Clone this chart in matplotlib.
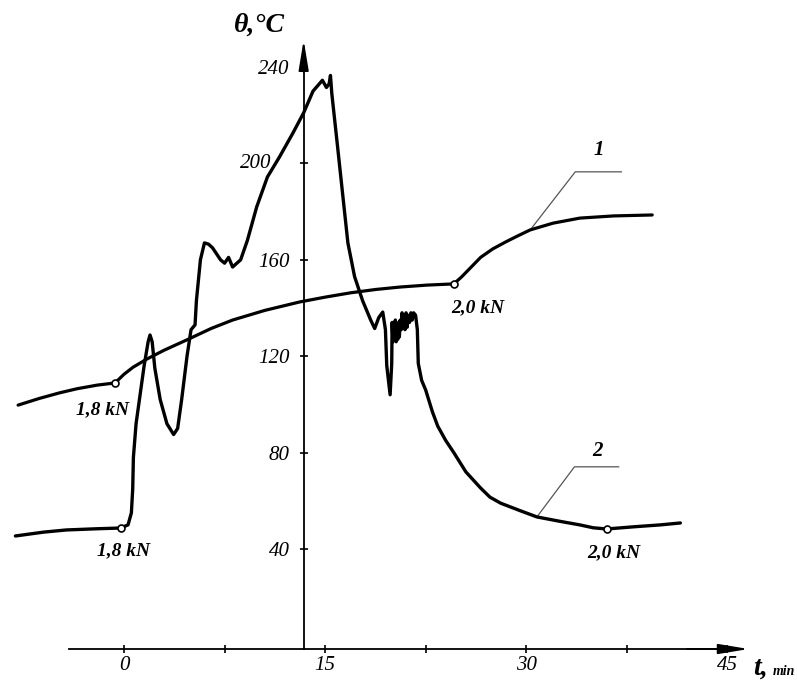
import matplotlib.pyplot as plt
import numpy as np

plt.rcParams['font.family'] = ['Liberation Serif', 'DejaVu Serif']
plt.rcParams['font.style'] = 'italic'

# curve 1 (smooth one)
t1 = [-7.9, -6.3, -4.8, -3.5, -2.0, -0.67, 0.0, 0.67, 1.7, 3.0, 4.7, 6.5, 8.1,
      10.5, 13.1, 15.0, 16.9, 18.8, 20.6, 22.6, 24.6, 25.2, 25.9, 26.6, 27.5,
      28.5, 29.4, 30.3, 32.0, 34.0, 36.5, 39.4]
theta1 = [99.7, 102.5, 104.8, 106.5, 108.0, 108.9, 112.5, 115.4, 118.8, 122.5,
          126.8, 131.5, 135.0, 139.0, 142.5, 144.5, 146.3, 147.7, 148.7, 149.5,
          150.0, 153.0, 157.0, 161.0, 164.5, 167.5, 170.0, 172.4, 175.2, 177.3,
          178.2, 178.6]

# curve 2 (the noisy one)
t2 = [-8.1, -6.0, -4.3, -2.0, -0.25, 0.3, 0.55, 0.65, 0.7, 0.9, 1.2, 1.5, 1.8,
      1.94, 2.1, 2.3, 2.7, 3.2, 3.7, 4.0, 4.3, 4.7, 5.0, 5.3, 5.4, 5.7, 6.0,
      6.3, 6.6, 7.2, 7.5, 7.8, 8.1, 8.7, 9.2, 9.9, 10.7, 11.6, 12.6, 13.4,
      14.1, 14.8, 15.1, 15.3, 15.4, 15.5, 15.9, 16.3, 16.7, 17.2, 17.8, 18.4,
      18.7, 19.0, 19.3, 19.5, 19.6, 19.85, 19.97,
      20.0, 20.06, 20.12, 20.18, 20.24, 20.3, 20.36, 20.42, 20.48, 20.54, 20.6,
      20.68, 20.74, 20.8, 20.88, 20.96, 21.04, 21.12, 21.2, 21.3, 21.4, 21.5,
      21.6, 21.75, 21.88,
      21.95, 22.2, 22.5, 23.0, 23.4, 24.0, 24.6, 25.5, 26.6, 27.3, 28.1, 29.5,
      30.8, 32.5, 34.0, 35.0, 36.0, 38.0, 40.0, 41.5]
theta2 = [45.4, 47.0, 47.9, 48.4, 48.7, 50.0, 55.0, 65.0, 78.0, 92.0, 104.0,
          116.0, 126.0, 128.8, 126.0, 115.0, 102.0, 92.0, 87.5, 90.0, 102.0,
          120.0, 131.0, 133.0, 143.0, 160.0, 167.0, 166.5, 165.0, 160.0, 158.6,
          161.0, 157.0, 160.0, 168.0, 182.0, 194.4, 202.7, 212.6, 221.0, 230.0,
          234.5, 231.5, 233.0, 236.5, 229.0, 208.5, 187.7, 167.0, 153.0, 143.0,
          135.0, 131.5, 136.0, 138.3, 131.0, 116.0, 104.0, 117.0,
          134.0, 126.0, 134.0, 127.0, 135.0, 126.0, 133.0, 127.0, 134.0, 128.0,
          135.0, 131.0, 138.0, 132.0, 137.0, 131.0, 138.0, 132.0, 137.0, 134.0,
          138.0, 135.0, 138.0, 137.0, 131.0,
          117.0, 110.0, 106.0, 97.0, 91.0, 85.0, 80.0, 72.0, 65.3, 61.5, 59.0,
          56.0, 53.3, 51.5, 50.0, 48.8, 48.3, 49.2, 50.0, 50.8]

# load change points
load_t1 = [-0.67, 24.6]
load_t2 = [-0.25, 36.0]
load_labels = ['1,8 kN', '2,0 kN']

x_major = [0, 15, 30, 45]
x_minor = [7.5, 22.5, 37.5]
y_ticks = [40, 80, 120, 160, 240]
y_shifted = 200   # this label sits further left in the original

axis_t = 13.4
axis_theta = -1.5

fig = plt.figure(figsize=(7.97, 6.8), dpi=100)
ax = fig.add_axes([0, 0, 1, 1])
ax.set_xlim(-9.25, 50.2)
ax.set_ylim(-14.36, 267.8)

for s in ['top', 'right']:
    ax.spines[s].set_visible(False)
ax.spines['left'].set_position(('data', axis_t))
ax.spines['bottom'].set_position(('data', axis_theta))
ax.spines['left'].set_bounds(axis_theta, 245)
ax.spines['bottom'].set_bounds(-4.1, 45)
for s in ['left', 'bottom']:
    ax.spines[s].set_linewidth(1.3)

ax.set_xticks(x_major)
ax.set_xticks(x_minor, minor=True)
ax.set_yticks(y_ticks + [y_shifted])
ax.set_yticklabels([str(v) for v in y_ticks] + [''])
ax.tick_params(axis='both', which='both', direction='inout', length=6, width=1.2,
               labelsize=15)
ax.tick_params(axis='x', pad=2)
ax.tick_params(axis='y', pad=7)
ax.annotate(str(y_shifted), xy=(axis_t, y_shifted), xytext=(-32, 0),
            textcoords='offset pixels', ha='right', va='center', fontsize=15)

# arrow heads
arrow = dict(arrowstyle='-|>,head_length=1.15,head_width=0.19', color='black',
             lw=1.3, mutation_scale=16, shrinkA=0, shrinkB=0)
ax.annotate('', xy=(46.6, axis_theta), xytext=(42.0, axis_theta), arrowprops=arrow)
ax.annotate('', xy=(axis_t, 251.2), xytext=(axis_t, 238), arrowprops=arrow)

ax.plot(t1, theta1, color='black', lw=2.3, solid_capstyle='round', zorder=3)
ax.plot(t2, theta2, color='black', lw=2.4, solid_capstyle='round',
        solid_joinstyle='round', zorder=3)

m1 = np.interp(load_t1, t1, theta1)
m2 = np.interp(load_t2, t2, theta2)
ax.plot(load_t1, m1, 'o', ms=5, mfc='white', mec='black', mew=1.2, zorder=4)
ax.plot(load_t2, m2, 'o', ms=5, mfc='white', mec='black', mew=1.2, zorder=4)

lab = dict(fontsize=14, weight='bold', ha='center', va='center')
ax.text(-1.57, 97.7, load_labels[0], **lab)
ax.text(26.4, 140.0, load_labels[1], **lab)
ax.text(-0.07, 39.2, load_labels[0], **lab)
ax.text(36.5, 38.4, load_labels[1], **lab)

# leader lines for curve numbers
ax.plot([30.3, 33.66, 37.1], [172.4, 196.5, 196.5], color='#555555', lw=0.9)
ax.plot([30.8, 33.6, 36.9], [53.3, 74.1, 74.1], color='#555555', lw=0.9)
ax.text(35.4, 201.4, '1', fontsize=15, weight='bold', ha='center', va='bottom')
ax.text(35.3, 76.5, '2', fontsize=15, weight='bold', ha='center', va='bottom')

ax.text(12.0, 254.5, 'θ,°C', fontsize=20, weight='bold', ha='right', va='baseline')
ax.text(46.9, -12.3, 't,', fontsize=20, weight='bold', ha='left', va='baseline')
ax.text(48.4, -12.3, 'min', fontsize=10, weight='bold', ha='left', va='baseline')

fig.savefig('out.png', dpi=100)
